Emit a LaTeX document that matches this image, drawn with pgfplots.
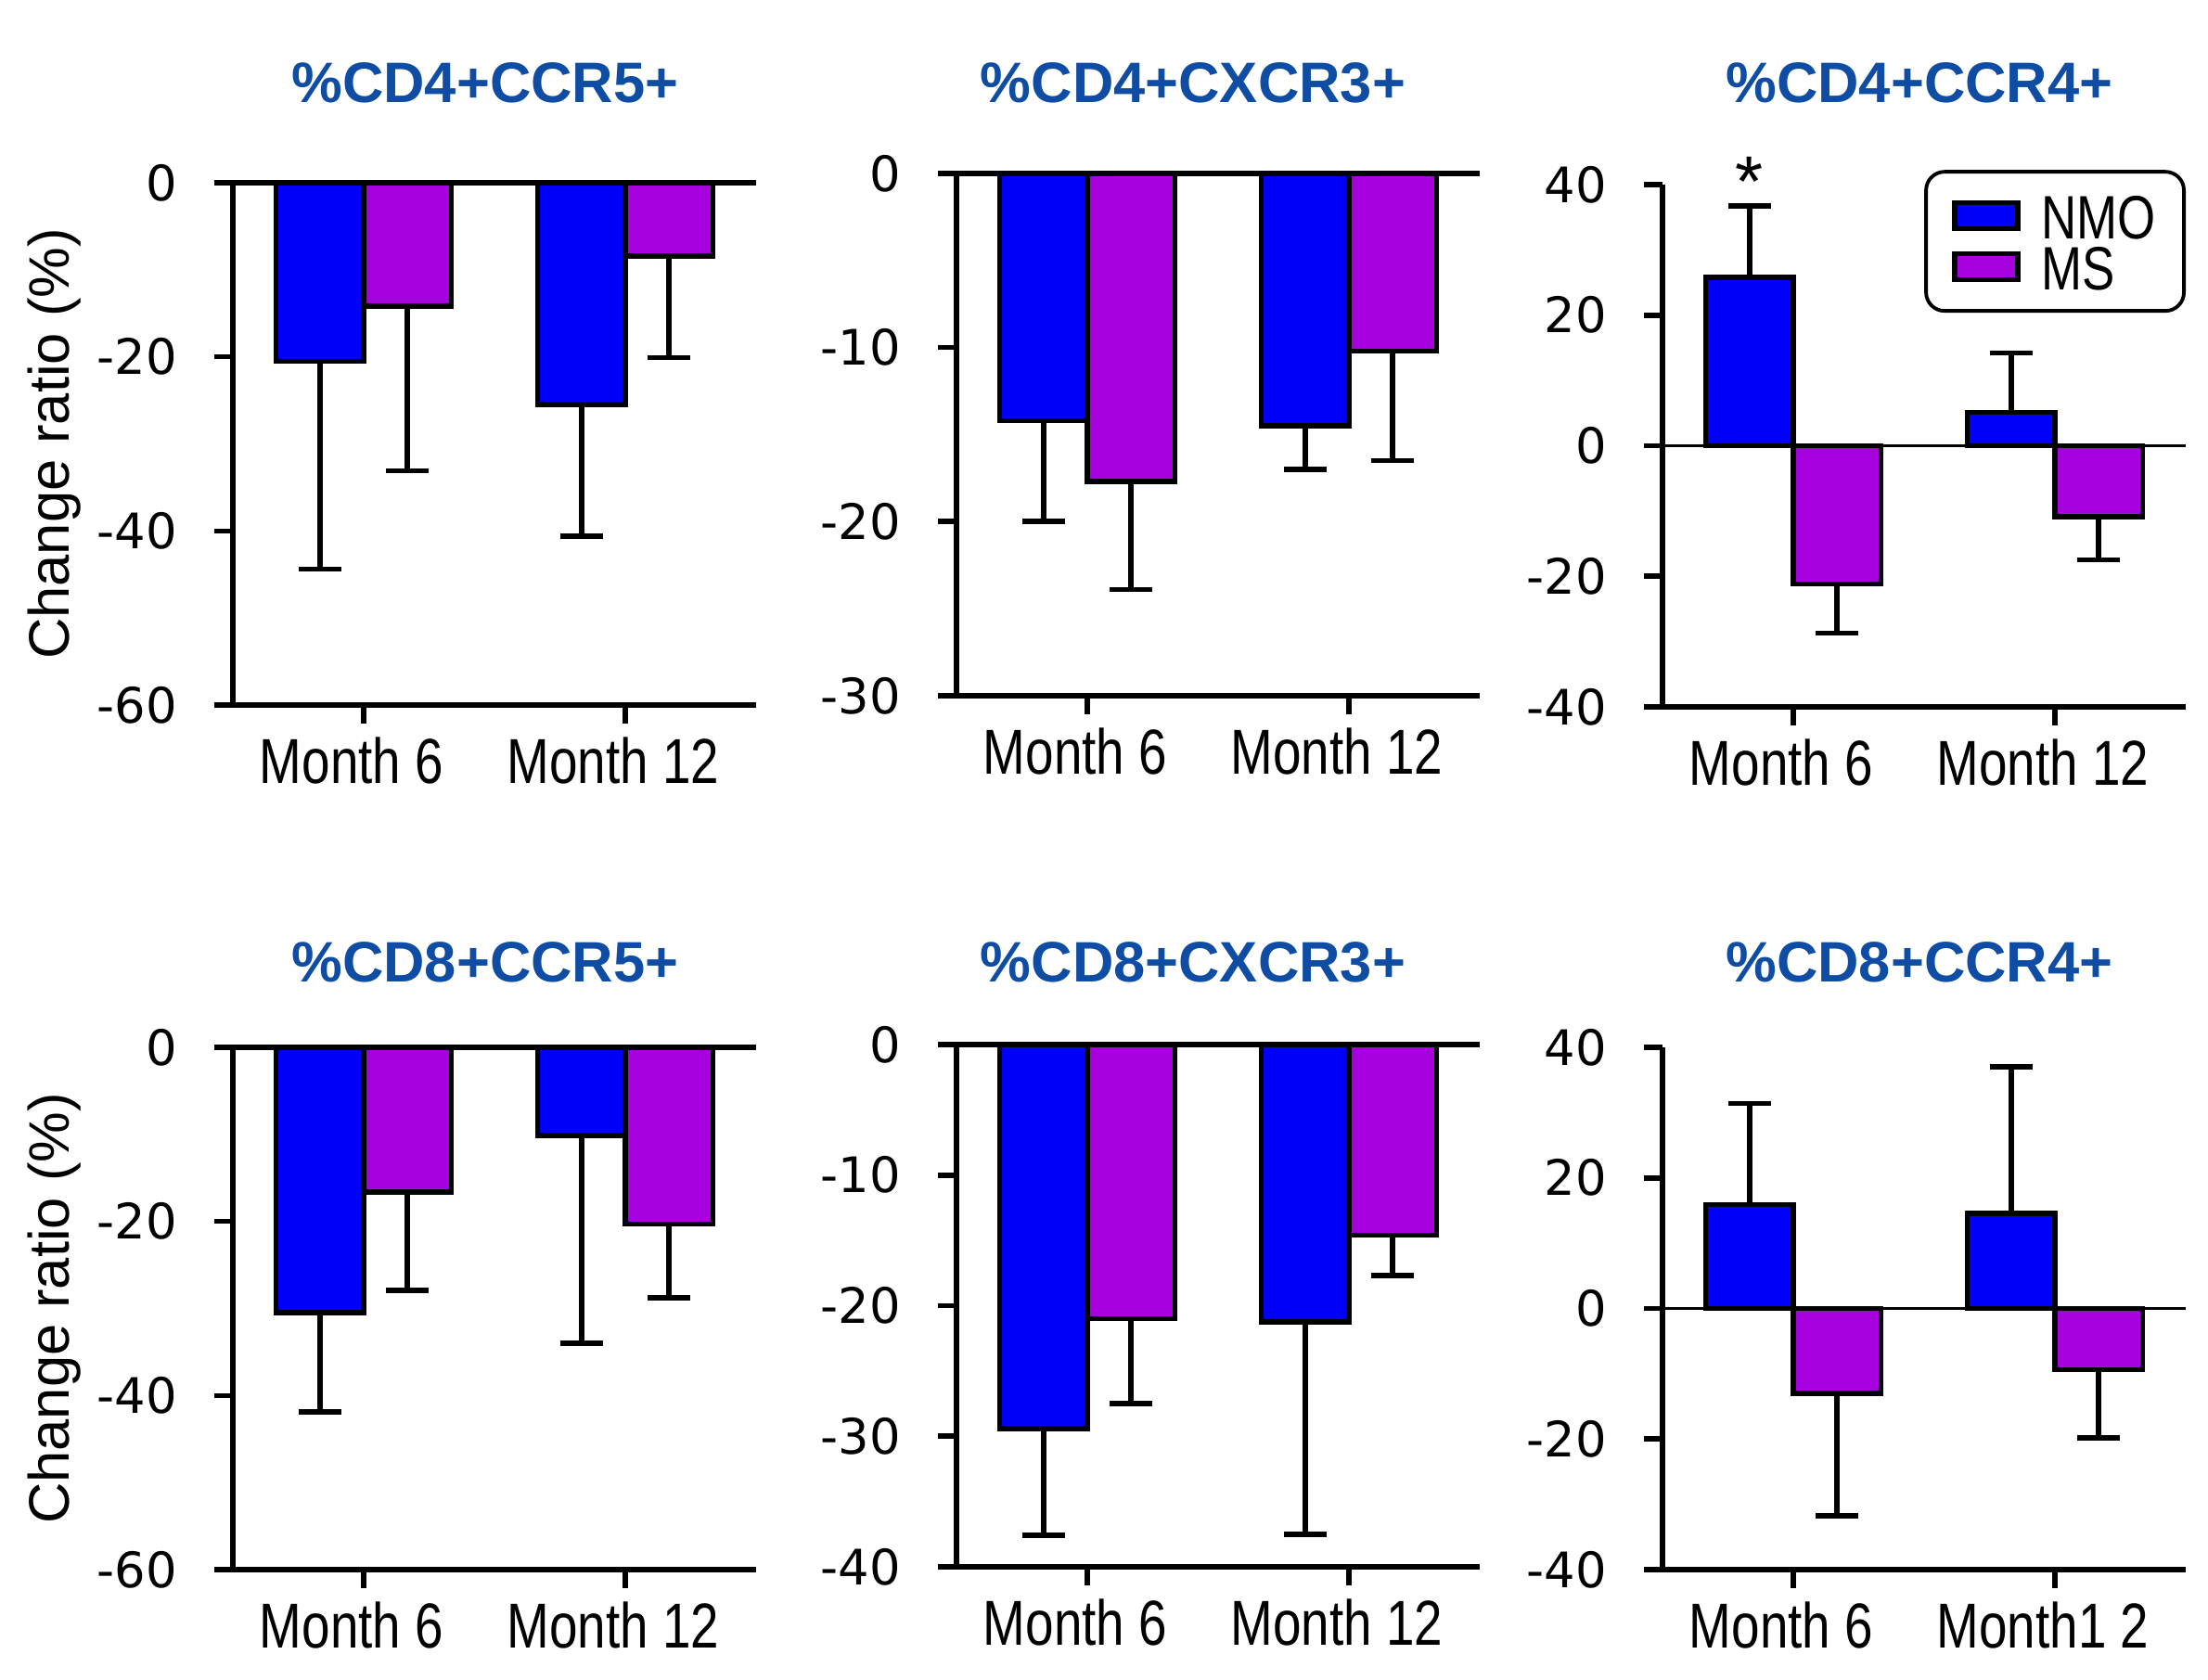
\documentclass[border=0pt]{standalone}
\usepackage{fontspec}
\setmainfont{Liberation Sans}
\newfontfamily\dejavu{DejaVu Sans}
\newfontfamily\narrow{Liberation Sans}[FakeStretch=0.8]
\usepackage{pgfplots}
\pgfplotsset{compat=1.18}

\definecolor{nmo}{RGB}{0,0,250}
\definecolor{ms}{RGB}{166,0,222}
\definecolor{ttl}{RGB}{14,77,163}

\pgfplotsset{
  panel/.style={
    scale only axis, width=5.64cm, height=5.63cm,
    anchor=south west, clip=false,
    ybar, bar width=0.335,
    xmin=-0.5, xmax=1.5, xtick={0,1},
    axis x line=bottom, axis y line=left,
    axis line style={-, line width=1.6pt},
    tick align=outside, major tick length=0.2cm,
    tick style={black, line width=1.6pt},
    xticklabel style={font=\narrow\fontsize{19.5}{22}\selectfont, xshift=-0.13cm, yshift=-0.02cm},
    yticklabel style={font=\dejavu\fontsize{15}{18}\selectfont, xshift=-0.28cm},
    ylabel style={font=\fontsize{17.5}{21}\selectfont,
      at={(axis description cs:-0.342,0.5)}, anchor=center},
  },
  nmo bars/.style={fill=nmo, draw=black, line width=1.6pt, bar shift=-0.1675,
    error bars/.cd, y dir=#1, y explicit,
    error bar style={line width=1.6pt, black},
    error mark options={rotate=90, black, line width=1.6pt, mark size=6.5pt}},
  ms bars/.style={fill=ms, draw=black, line width=1.6pt, bar shift=0.1675,
    error bars/.cd, y dir=#1, y explicit,
    error bar style={line width=1.6pt, black},
    error mark options={rotate=90, black, line width=1.6pt, mark size=6.5pt}},
}
\tikzset{ptitle/.style={text=ttl, font=\bfseries\fontsize{17.5}{21}\selectfont}}

\begin{document}
\begin{tikzpicture}
\path[use as bounding box] (0,0) rectangle (23.8,18.11);

% %CD4+CCR5+
\begin{axis}[panel, at={(2.51cm,10.51cm)},
  ymin=-60, ymax=0, ytick={-60,-40,-20,0}, yticklabels={-60,-40,-20,0},
  xticklabels={Month 6,Month 12}, ylabel={Change ratio (\%)}]
\addplot[nmo bars=minus] coordinates {(0,-20.5) +- (0,23.9) (1,-25.5) +- (0,15.1)};
\addplot[ms bars=minus] coordinates {(0,-14.2) +- (0,18.9) (1,-8.4) +- (0,11.7)};
\draw[line width=1.6pt] (axis cs:-0.5,0) -- (axis cs:1.5,0);
\end{axis}

% %CD4+CXCR3+
\begin{axis}[panel, at={(10.31cm,10.61cm)},
  ymin=-30, ymax=0, ytick={-30,-20,-10,0}, yticklabels={-30,-20,-10,0},
  xticklabels={Month 6,Month 12}]
\addplot[nmo bars=minus] coordinates {(0,-14.2) +- (0,5.8) (1,-14.5) +- (0,2.5)};
\addplot[ms bars=minus] coordinates {(0,-17.7) +- (0,6.2) (1,-10.2) +- (0,6.3)};
\draw[line width=1.6pt] (axis cs:-0.5,0) -- (axis cs:1.5,0);
\end{axis}

% %CD4+CCR4+
\begin{axis}[panel, at={(17.92cm,10.49cm)},
  ymin=-40, ymax=40, ytick={-40,-20,0,20,40}, yticklabels={-40,-20,0,20,40},
  xticklabels={Month 6,Month 12},
  legend image code/.code={\draw[#1, sharp corners, line width=1.6pt] (0cm,-0.14cm) rectangle (0.68cm,0.14cm); \path (0.88cm,0cm);},
  legend style={at={(1.0,1.028)}, anchor=north east, draw=black, line width=1.1pt,
    rounded corners=0.2cm, inner xsep=0.28cm, inner ysep=0.2cm,
    font=\narrow\fontsize{18.8}{20}\selectfont,
    nodes={inner sep=0.025cm, text height=0.5cm, text depth=0cm},
    cells={anchor=west}}]
\addplot[nmo bars=plus] coordinates {(0,25.8) +- (0,10.9) (1,5.1) +- (0,9.1)};
\addlegendentry{NMO}
\addplot[ms bars=minus] coordinates {(0,-21.2) +- (0,7.5) (1,-10.9) +- (0,6.6)};
\addlegendentry{MS}
\draw[line width=0.9pt] (axis cs:-0.5,0) -- (axis cs:1.5,0);
\node[anchor=base, font=\fontsize{22}{24}\selectfont] at (axis cs:-0.1675,36.7) {*};
\end{axis}

% %CD8+CCR5+
\begin{axis}[panel, at={(2.51cm,1.19cm)},
  ymin=-60, ymax=0, ytick={-60,-40,-20,0}, yticklabels={-60,-40,-20,0},
  xticklabels={Month 6,Month 12}, ylabel={Change ratio (\%)}]
\addplot[nmo bars=minus] coordinates {(0,-30.5) +- (0,11.4) (1,-10.1) +- (0,23.9)};
\addplot[ms bars=minus] coordinates {(0,-16.6) +- (0,11.3) (1,-20.3) +- (0,8.5)};
\draw[line width=1.6pt] (axis cs:-0.5,0) -- (axis cs:1.5,0);
\end{axis}

% %CD8+CXCR3+
\begin{axis}[panel, at={(10.31cm,1.22cm)},
  ymin=-40, ymax=0, ytick={-40,-30,-20,-10,0}, yticklabels={-40,-30,-20,-10,0},
  xticklabels={Month 6,Month 12}]
\addplot[nmo bars=minus] coordinates {(0,-29.4) +- (0,8.2) (1,-21.25) +- (0,16.25)};
\addplot[ms bars=minus] coordinates {(0,-21.0) +- (0,6.5) (1,-14.6) +- (0,3.1)};
\draw[line width=1.6pt] (axis cs:-0.5,0) -- (axis cs:1.5,0);
\end{axis}

% %CD8+CCR4+
\begin{axis}[panel, at={(17.92cm,1.19cm)},
  ymin=-40, ymax=40, ytick={-40,-20,0,20,40}, yticklabels={-40,-20,0,20,40},
  xticklabels={Month 6,Month1 2}]
\addplot[nmo bars=plus] coordinates {(0,15.9) +- (0,15.5) (1,14.6) +- (0,22.4)};
\addplot[ms bars=minus] coordinates {(0,-13.0) +- (0,18.8) (1,-9.4) +- (0,10.4)};
\draw[line width=0.9pt] (axis cs:-0.5,0) -- (axis cs:1.5,0);
\end{axis}

\node[ptitle] at (5.23,17.22) {\%CD4+CCR5+};
\node[ptitle] at (12.86,17.22) {\%CD4+CXCR3+};
\node[ptitle] at (20.69,17.22) {\%CD4+CCR4+};
\node[ptitle] at (5.23,7.74) {\%CD8+CCR5+};
\node[ptitle] at (12.86,7.74) {\%CD8+CXCR3+};
\node[ptitle] at (20.69,7.74) {\%CD8+CCR4+};
\end{tikzpicture}
\end{document}
